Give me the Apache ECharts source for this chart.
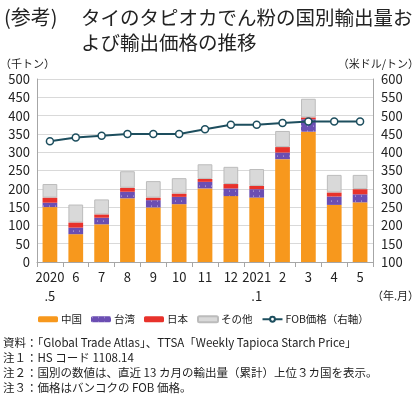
<!DOCTYPE html>
<html>
<head>
<meta charset="utf-8">
<script src="https://cdn.jsdelivr.net/npm/echarts@6/dist/echarts.min.js"></script>
<style>
	html, body { margin: 0; padding: 0; background: #fff; }
	#chart { width: 420px; height: 397px; }
</style>
</head>
<body>
<div id="chart"></div>
<script>
//Data
let months = ['2020\n.5', '6', '7', '8', '9', '10', '11', '12', '2021\n.1', '2', '3', '4', '5'];
let china = [150, 76, 103, 174, 149, 158, 201, 180, 176, 281, 356, 156, 163];
let taiwan = [12, 18, 18, 18, 20, 20, 18, 21, 23, 18, 34, 23, 22];
let japan = [14, 14, 9, 11, 7, 9, 8, 12, 9, 15, 5, 11, 14];
let others = [37, 49, 41, 45, 45, 42, 40, 47, 46, 44, 51, 48, 39];
let fobPrice = [430, 440, 445, 450, 450, 450, 463, 475, 475, 480, 484, 484, 484];

let font = '"Noto Sans CJK JP", "Noto Sans", sans-serif';
let textColor = '#222';

function barSeries(name, data, color, extra) {
	let s = {
		name: name,
		type: 'bar',
		stack: 'vol',
		data: data,
		barCategoryGap: '43%',
		itemStyle: { color: color }
	};
	if (extra) {
		Object.assign(s.itemStyle, extra);
	}
	return s;
}

function label(text, pos, size, lh) {
	//plain text block, no padding so positions are exact
	let t = {
		text: text,
		padding: 0,
		textStyle: { fontFamily: font, fontSize: size, fontWeight: 'normal', color: textColor }
	};
	if (lh) t.textStyle.lineHeight = lh;
	return Object.assign(t, pos);
}

window.onload = function () {
	let chart = echarts.init(document.getElementById('chart'));
	let option = {
		animation: false,
		textStyle: { fontFamily: font, color: textColor },
		title: [
			label('(参考)', { left: 4, top: 5 }, 20, 25),
			label('タイのタピオカでん粉の国別輸出量お\nよび輸出価格の推移', { left: 81, top: 5 }, 19.5, 25),
			label('（千トン）', { left: 0, top: 58 }, 11),
			label('（米ドル/トン）', { right: 1, top: 58 }, 11),
			label('（年.月）', { right: 1, top: 290 }, 11),
			label('資料：「Global Trade Atlas」、TTSA「Weekly Tapioca Starch Price」\n注１：HS コード 1108.14\n注２：国別の数値は、直近 13 カ月の輸出量（累計）上位３カ国を表示。\n注３：価格はバンコクの FOB 価格。',
				{ left: 3, top: 335 }, 11.5, 15)
		],
		legend: {
			top: 314,
			left: 38,
			padding: 0,
			itemWidth: 20,
			itemHeight: 6,
			itemGap: 9,
			textStyle: { fontFamily: font, fontSize: 10.5, color: textColor, padding: [0, 0, 0, -2] },
			data: ['中国', '台湾', '日本', 'その他', 'FOB価格（右軸）']
		},
		grid: { left: 37, right: 47, top: 79, bottom: 135 },
		xAxis: {
			type: 'category',
			data: months,
			axisLine: { lineStyle: { color: '#a6a6a6' } },
			axisTick: { show: true, length: 5, lineStyle: { color: '#a6a6a6' } },
			axisLabel: { interval: 0, fontSize: 13, color: textColor, lineHeight: 19, margin: 6 }
		},
		yAxis: [
			{
				type: 'value',
				min: 0, max: 500, interval: 50,
				axisLine: { show: true, lineStyle: { color: '#a6a6a6' } },
				axisTick: { show: false },
				splitLine: { lineStyle: { color: '#d9d9d9' } },
				axisLabel: { fontSize: 13, color: textColor, margin: 7 }
			},
			{
				type: 'value',
				min: 100, max: 600, interval: 50,
				axisLine: { show: true, lineStyle: { color: '#a6a6a6' } },
				axisTick: { show: false },
				splitLine: { show: false },
				axisLabel: { fontSize: 13, color: textColor, margin: 8 }
			}
		],
		series: [
			barSeries('中国', china, '#f7981d'),
			barSeries('台湾', taiwan, '#6b4eb3', {
				decal: {
					symbol: 'circle',
					symbolSize: 0.5,
					color: 'rgba(255,255,255,0.8)',
					dashArrayX: [[3, 3]],
					dashArrayY: [2, 3],
					rotation: 0
				}
			}),
			barSeries('日本', japan, '#e8322b'),
			barSeries('その他', others, '#d9d9d9', { borderColor: '#bcbcbc', borderWidth: 1 }),
			{
				name: 'FOB価格（右軸）',
				type: 'line',
				yAxisIndex: 1,
				data: fobPrice,
				symbol: 'circle',
				symbolSize: 7,
				lineStyle: { color: '#1d4e5e', width: 2 },
				itemStyle: { color: '#fff', borderColor: '#1d4e5e', borderWidth: 1.5 },
				z: 5
			}
		]
	};
	chart.setOption(option);
};
</script>
</body>
</html>
